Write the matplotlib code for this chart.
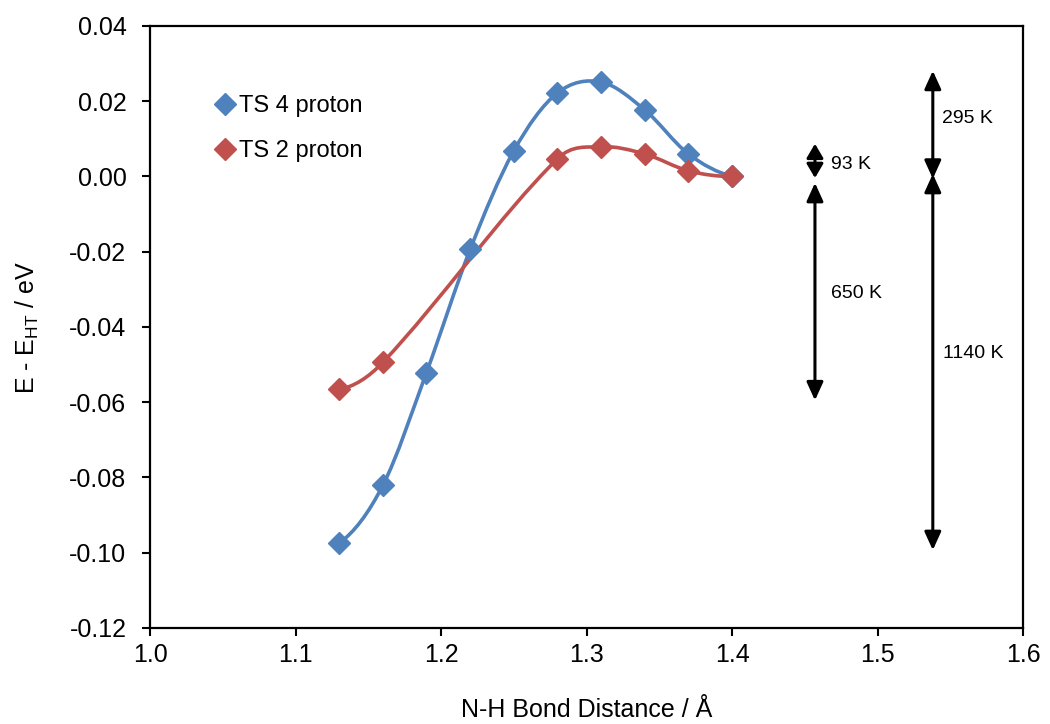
import numpy as np
import matplotlib
matplotlib.use("Agg")
import matplotlib.pyplot as plt
from matplotlib.path import Path
from matplotlib.patches import PathPatch
from matplotlib.lines import Line2D

plt.rcParams['font.family'] = ['Liberation Sans', 'DejaVu Sans']

# data
ts4_x = [1.13, 1.16, 1.19, 1.22, 1.25, 1.28, 1.31, 1.34, 1.37, 1.40]
ts4_y = [-0.0974, -0.0821, -0.0521, -0.0194, 0.0068, 0.0222, 0.0251, 0.0177, 0.0060, 0.0]
ts2_x = [1.13, 1.16, 1.28, 1.31, 1.34, 1.37, 1.40]
ts2_y = [-0.0566, -0.0494, 0.0047, 0.0079, 0.0060, 0.0015, 0.0]

# energy gap arrows
gap_x = [1.457, 1.457, 1.538, 1.538]
gap_top = [0.0087, -0.0017, 0.0281, 0.0007]
gap_bottom = [-0.0004, -0.0595, -0.0006, -0.0993]
gap_labels = ['93 K', '650 K', '295 K', '1140 K']
gap_label_x = [1.468, 1.468, 1.544, 1.545]
gap_label_y = [0.0031, -0.0311, 0.0155, -0.0470]

BLUE = '#4F81BD'
RED = '#C0504D'


def smooth_path(xs, ys):
    # smoothed line through the points: cubic hermite pieces as bezier curves
    x = np.asarray(xs, float)
    y = np.asarray(ys, float)
    n = len(x)
    m = np.zeros(n)
    for i in range(1, n - 1):
        m[i] = (y[i + 1] - y[i - 1]) / (x[i + 1] - x[i - 1])
    m[0] = 2 * (y[1] - y[0]) / (x[1] - x[0]) - m[1]
    m[-1] = 2 * (y[-1] - y[-2]) / (x[-1] - x[-2]) - m[-2]
    verts = [(x[0], y[0])]
    codes = [Path.MOVETO]
    for i in range(n - 1):
        h = (x[i + 1] - x[i]) / 3.0
        verts += [(x[i] + h, y[i] + m[i] * h),
                  (x[i + 1] - h, y[i + 1] - m[i + 1] * h),
                  (x[i + 1], y[i + 1])]
        codes += [Path.CURVE4] * 3
    return Path(verts, codes)


fig = plt.figure(figsize=(10.5, 7.24), dpi=100)
ax = fig.add_axes([0.1429, 0.1326, 0.8314, 0.8315])

for xs, ys, col in [(ts4_x, ts4_y, BLUE), (ts2_x, ts2_y, RED)]:
    ax.add_patch(PathPatch(smooth_path(xs, ys), facecolor='none',
                           edgecolor=col, lw=2.6, zorder=3))
    ax.plot(xs, ys, ls='none', marker='D', ms=11, color=col, zorder=4)

for x, yt, yb in zip(gap_x, gap_top, gap_bottom):
    hl = 0.85 if yt - yb < 0.015 else 1.1
    ax.annotate('', xy=(x, yb), xytext=(x, yt),
                arrowprops=dict(arrowstyle=f'<|-|>,head_length={hl},head_width=0.5',
                                color='black', lw=2.2, shrinkA=0, shrinkB=0))
for lab, lx, ly in zip(gap_labels, gap_label_x, gap_label_y):
    ax.text(lx, ly, lab, fontsize=14, ha='left', va='center')

ax.set_xlim(1.0, 1.6)
ax.set_ylim(-0.12, 0.04)
xt = np.arange(1.0, 1.61, 0.1)
yt = np.arange(-0.12, 0.041, 0.02)
ax.set_xticks(xt)
ax.set_yticks(yt)
ax.set_xticklabels([f'{v:.1f}' for v in xt])
ax.set_yticklabels([f'{v:.2f}' for v in yt])
ax.tick_params(direction='out', length=6, width=1.5, labelsize=18)
ax.tick_params(axis='y', pad=11)
ax.tick_params(axis='x', pad=5)
for s in ax.spines.values():
    s.set_linewidth(1.6)

ax.set_xlabel('N-H Bond Distance / Å', fontsize=18, labelpad=22)
ax.set_ylabel(r'E - E$_{\mathregular{HT}}$ / eV', fontsize=18, labelpad=20)

handles = [Line2D([], [], ls='none', marker='D', ms=11, color=BLUE),
           Line2D([], [], ls='none', marker='D', ms=11, color=RED)]
ax.legend(handles, ['TS 4 proton', 'TS 2 proton'], loc='upper left',
          bbox_to_anchor=(0.045, 0.92), frameon=False, fontsize=17,
          handletextpad=0.0, labelspacing=0.95, handlelength=1.2)

fig.savefig('out.png', dpi=100)
